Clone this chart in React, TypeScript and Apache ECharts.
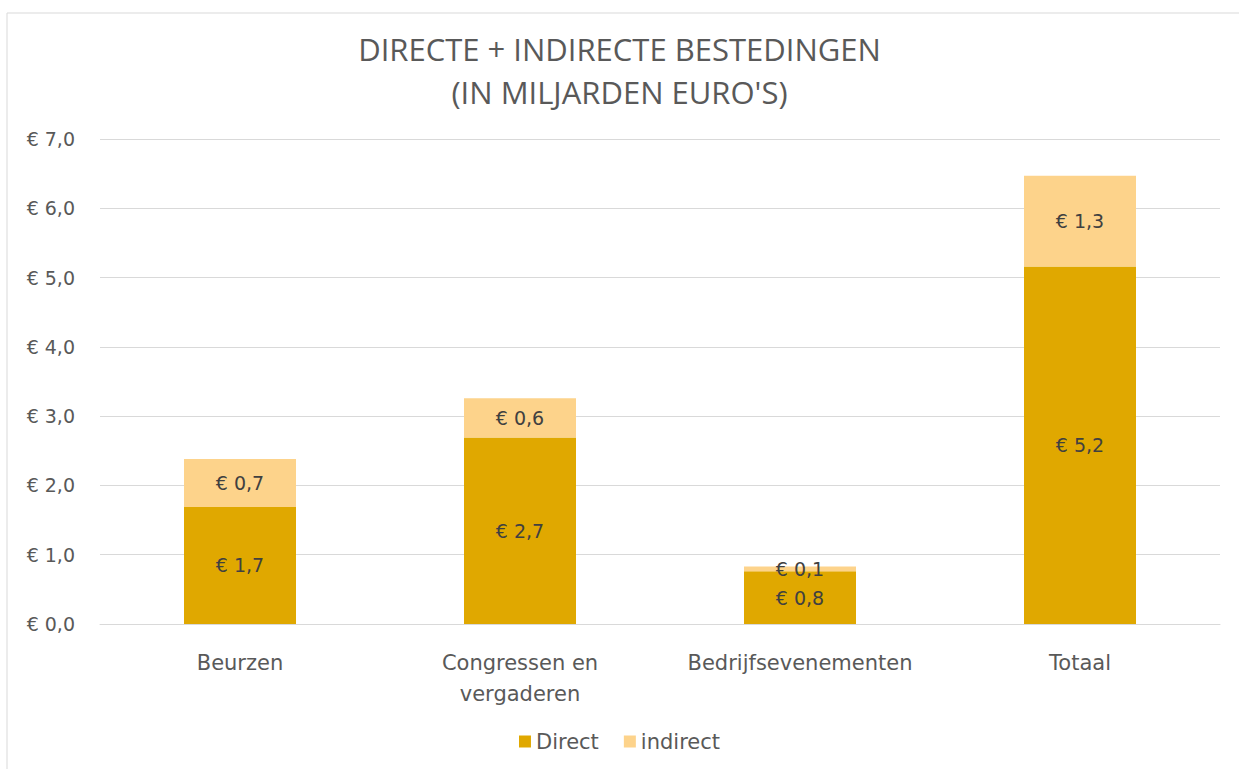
import React, { useEffect, useRef } from "react";
import * as echarts from "echarts";

const categories = ["Beurzen", "Congressen en\nvergaderen", "Bedrijfsevenementen", "Totaal"];
const directValues = [1.69, 2.69, 0.76, 5.16];
const indirectValues = [0.69, 0.57, 0.07, 1.31];
const yTicks = [0, 1, 2, 3, 4, 5, 6, 7];
const titleText = "DIRECTE + INDIRECTE BESTEDINGEN\n(IN MILJARDEN EURO'S)";

const fmt = (v: number) => "€ " + v.toFixed(1).replace(".", ",");
const FONT = "'DejaVu Sans', 'Open Sans', sans-serif";

export default function App() {
  const ref = useRef<HTMLDivElement>(null);
  useEffect(() => {
    if (!ref.current) return;
    const chart = echarts.init(ref.current, undefined, { renderer: "svg" });
    const labelStyle = {
      show: true,
      position: "inside" as const,
      color: "#404040",
      fontSize: 19,
      fontFamily: FONT,
      formatter: (p: any) => fmt(p.value),
    };
    chart.setOption({
      animation: false,
      backgroundColor: "#ffffff",
      title: {
        text: titleText,
        left: "center",
        top: 22,
        textStyle: {
          fontFamily: "'Open Sans', sans-serif",
          fontWeight: "normal",
          fontSize: 31,
          lineHeight: 43,
          color: "#595959",
        },
      },
      graphic: [
        {
          type: "rect",
          shape: { x: 7, y: 13, width: 1260, height: 800 },
          style: { fill: "none", stroke: "#D9D9D9", lineWidth: 1 },
          silent: true,
          z: -1,
        },
      ],
      legend: {
        bottom: 12,
        left: "center",
        itemWidth: 12,
        itemHeight: 12,
        itemGap: 25,
        icon: "rect",
        textStyle: { fontSize: 21, color: "#595959", fontFamily: FONT },
        data: ["Direct", "indirect"],
      },
      grid: { left: 100, right: 19, top: 139, bottom: 145 },
      xAxis: {
        type: "category",
        data: categories,
        axisLine: { show: true, lineStyle: { color: "#D9D9D9" } },
        axisTick: { show: false },
        axisLabel: {
          color: "#595959",
          fontSize: 21,
          lineHeight: 31,
          margin: 23,
          fontFamily: FONT,
          interval: 0,
        },
      },
      yAxis: {
        type: "value",
        min: yTicks[0],
        max: yTicks[yTicks.length - 1],
        interval: 1,
        axisLine: { show: false },
        axisTick: { show: false },
        splitLine: { lineStyle: { color: "#D9D9D9" } },
        axisLabel: {
          color: "#595959",
          fontSize: 19,
          margin: 25,
          fontFamily: FONT,
          formatter: (v: number) => fmt(v),
        },
      },
      series: [
        {
          name: "Direct",
          type: "bar",
          stack: "total",
          barCategoryGap: "60%",
          data: directValues,
          itemStyle: { color: "#E0A800" },
          label: labelStyle,
        },
        {
          name: "indirect",
          type: "bar",
          stack: "total",
          barCategoryGap: "60%",
          data: indirectValues,
          itemStyle: { color: "#FDD38B" },
          label: labelStyle,
        },
      ],
    });
    return () => chart.dispose();
  }, []);
  return (
    <div
      ref={ref}
      style={{ position: "fixed", left: 0, top: 0, width: 1239, height: 769 }}
    />
  );
}
